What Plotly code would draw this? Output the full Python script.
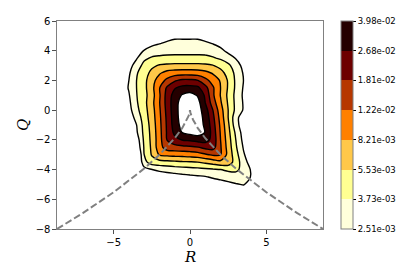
import numpy as np
import plotly.graph_objects as go

# Grid of the joint PDF (log10 of density), rows from Q=5.5 (top) to Q=-5.5 (bottom)
R_cols = [-4.5, -4.0, -3.5, -3.0, -2.5, -2.0, -1.5, -1.0, -0.5, 0.0,
          0.5, 1.0, 1.5, 2.0, 2.5, 3.0, 3.5, 4.0, 4.5]
Q_rows = [5.5, 5.0, 4.5, 4.0, 3.5, 3.0, 2.5, 2.0, 1.5, 1.0, 0.5, 0.0,
          -0.5, -1.0, -1.5, -2.0, -2.5, -3.0, -3.5, -4.0, -4.5, -5.0, -5.5]
log10_pdf = [
    [-2.943,-2.943,-2.943,-2.943,-2.943,-2.943,-2.926,-2.892,-2.857,-2.857,-2.857,-2.892,-2.926,-2.943,-2.943,-2.943,-2.943,-2.943,-2.943],
    [-2.943,-2.943,-2.909,-2.840,-2.772,-2.720,-2.686,-2.643,-2.643,-2.643,-2.643,-2.686,-2.720,-2.772,-2.823,-2.874,-2.909,-2.943,-2.943],
    [-2.909,-2.857,-2.772,-2.703,-2.643,-2.609,-2.569,-2.549,-2.549,-2.549,-2.549,-2.569,-2.609,-2.660,-2.720,-2.772,-2.823,-2.874,-2.909],
    [-2.943,-2.823,-2.694,-2.591,-2.531,-2.506,-2.494,-2.485,-2.485,-2.485,-2.485,-2.494,-2.514,-2.557,-2.643,-2.754,-2.883,-2.943,-2.943],
    [-2.874,-2.737,-2.617,-2.463,-2.408,-2.391,-2.382,-2.382,-2.382,-2.382,-2.382,-2.382,-2.411,-2.454,-2.523,-2.609,-2.717,-2.840,-2.943],
    [-2.806,-2.677,-2.514,-2.377,-2.291,-2.240,-2.223,-2.214,-2.214,-2.214,-2.214,-2.223,-2.248,-2.308,-2.391,-2.514,-2.651,-2.780,-2.909],
    [-2.754,-2.626,-2.447,-2.326,-2.214,-2.106,-2.025,-2.000,-1.988,-1.988,-2.000,-2.034,-2.104,-2.200,-2.319,-2.471,-2.614,-2.737,-2.874],
    [-2.729,-2.600,-2.429,-2.307,-2.154,-2.000,-1.871,-1.763,-1.708,-1.708,-1.734,-1.857,-1.983,-2.103,-2.276,-2.458,-2.600,-2.729,-2.857],
    [-2.717,-2.585,-2.429,-2.307,-2.142,-1.923,-1.717,-1.585,-1.520,-1.514,-1.533,-1.681,-1.890,-2.086,-2.276,-2.459,-2.614,-2.737,-2.857],
    [-2.742,-2.614,-2.435,-2.315,-2.161,-1.935,-1.676,-1.497,-1.382,-1.331,-1.417,-1.600,-1.885,-2.094,-2.295,-2.475,-2.626,-2.754,-2.874],
    [-2.768,-2.639,-2.449,-2.310,-2.142,-1.923,-1.676,-1.468,-1.322,-1.262,-1.331,-1.571,-1.828,-2.063,-2.278,-2.471,-2.614,-2.742,-2.871],
    [-2.794,-2.665,-2.478,-2.322,-2.161,-1.938,-1.689,-1.466,-1.314,-1.228,-1.314,-1.494,-1.743,-2.012,-2.257,-2.471,-2.614,-2.742,-2.871],
    [-2.832,-2.703,-2.543,-2.343,-2.175,-1.952,-1.705,-1.477,-1.314,-1.228,-1.305,-1.454,-1.701,-1.977,-2.257,-2.543,-2.703,-2.832,-2.943],
    [-2.857,-2.729,-2.601,-2.367,-2.192,-1.964,-1.715,-1.490,-1.339,-1.279,-1.331,-1.424,-1.670,-1.948,-2.224,-2.531,-2.703,-2.832,-2.943],
    [-2.883,-2.754,-2.626,-2.380,-2.206,-1.974,-1.722,-1.530,-1.391,-1.348,-1.314,-1.408,-1.645,-1.929,-2.200,-2.463,-2.677,-2.806,-2.934],
    [-2.909,-2.780,-2.703,-2.394,-2.214,-1.983,-1.736,-1.626,-1.564,-1.544,-1.513,-1.502,-1.628,-1.914,-2.176,-2.429,-2.651,-2.780,-2.909],
    [-2.934,-2.806,-2.754,-2.411,-2.224,-1.984,-1.825,-1.806,-1.792,-1.777,-1.751,-1.696,-1.674,-1.897,-2.156,-2.404,-2.614,-2.742,-2.871],
    [-2.943,-2.943,-2.857,-2.429,-2.242,-2.068,-2.044,-2.031,-2.022,-2.010,-1.989,-1.938,-1.890,-1.905,-2.140,-2.363,-2.578,-2.717,-2.845],
    [-2.943,-2.943,-2.857,-2.485,-2.339,-2.322,-2.308,-2.293,-2.279,-2.271,-2.257,-2.221,-2.182,-2.137,-2.154,-2.332,-2.525,-2.677,-2.806],
    [-2.943,-2.943,-2.720,-2.660,-2.603,-2.567,-2.542,-2.519,-2.504,-2.493,-2.478,-2.465,-2.447,-2.430,-2.396,-2.394,-2.482,-2.614,-2.806],
    [-2.943,-2.943,-2.943,-2.943,-2.729,-2.708,-2.687,-2.677,-2.657,-2.639,-2.626,-2.614,-2.579,-2.550,-2.528,-2.507,-2.514,-2.609,-2.772],
    [-2.943,-2.943,-2.943,-2.943,-2.943,-2.943,-2.892,-2.857,-2.823,-2.806,-2.772,-2.742,-2.708,-2.677,-2.643,-2.614,-2.590,-2.665,-2.806],
    [-2.943,-2.943,-2.943,-2.943,-2.943,-2.943,-2.943,-2.943,-2.943,-2.943,-2.943,-2.874,-2.840,-2.806,-2.772,-2.742,-2.717,-2.789,-2.857],
]

# Contour levels (PDF values shown on the colour bar)
level_values = [2.51e-3, 3.73e-3, 5.53e-3, 8.21e-3, 1.22e-2, 1.81e-2, 2.68e-2, 3.98e-2]
level_labels = ["2.51e-03", "3.73e-03", "5.53e-03", "8.21e-03",
                "1.22e-02", "1.81e-02", "2.68e-02", "3.98e-02"]
band_colors = ["rgb(255,255,219)", "rgb(255,255,146)", "rgb(255,200,73)",
               "rgb(255,128,0)", "rgb(182,55,0)", "rgb(109,0,0)", "rgb(36,0,0)"]

# Vieillefosse line
vf_R = [-8.71, -7.0, -5.0, -3.0, -2.0, -1.0, -0.5, -0.2, -0.1, -0.05, -0.02, 0.0,
        0.02, 0.05, 0.1, 0.2, 0.5, 1.0, 2.0, 3.0, 5.0, 7.0, 8.71]
vf_Q = [-8.0, -6.915, -5.526, -3.931, -2.999, -1.890, -1.191, -0.646, -0.407, -0.256, -0.139, 0.0,
        -0.139, -0.256, -0.407, -0.646, -1.191, -1.890, -2.999, -3.931, -5.526, -6.915, -8.0]

log_levels = np.log10(level_values)
lo, hi = log_levels[0], log_levels[-1]
step = (hi - lo) / (len(level_values) - 1)
nb = len(band_colors)

Z = np.array(log10_pdf)[::-1]
Qa = np.array(Q_rows)[::-1]

fill_scale = [[0.0, "white"]] + [[(i + 1) / (nb + 1), c] for i, c in enumerate(band_colors)] + [[1.0, "white"]]

cb_scale = []
for i, c in enumerate(band_colors):
    cb_scale += [[i / nb, c], [(i + 1) / nb, c]]

fig = go.Figure()
fig.add_trace(go.Contour(
    x=R_cols, y=Qa, z=Z,
    contours=dict(start=lo, end=hi, size=step, coloring="fill"),
    colorscale=fill_scale, showscale=False,
    line=dict(color="black", width=1.4, smoothing=0.9),
    hoverinfo="skip",
))
fig.add_trace(go.Scatter(
    x=vf_R, y=vf_Q, mode="lines",
    line=dict(color="rgb(128,128,128)", width=2, dash="7px,3px"),
    showlegend=False, hoverinfo="skip",
))
fig.add_trace(go.Scatter(
    x=[-100, -100], y=[-100, -100], mode="markers",
    marker=dict(size=1, color=[lo, hi], cmin=lo, cmax=hi, colorscale=cb_scale,
                showscale=True,
                colorbar=dict(
                    tickvals=list(log_levels), ticktext=level_labels,
                    ticks="outside", ticklen=3, tickcolor="black",
                    tickfont=dict(family="DejaVu Sans", size=8.5, color="black"),
                    thickness=12, len=1, lenmode="fraction", y=0.5, yanchor="middle",
                    x=1.068, xanchor="left", xpad=0, ypad=0,
                    outlinewidth=1, outlinecolor="rgb(128,128,128)",
                )),
    showlegend=False, hoverinfo="skip",
))

axis_common = dict(
    showgrid=False, zeroline=False, showline=True, mirror=True,
    linecolor="rgb(128,128,128)", linewidth=1.2,
    ticks="outside", ticklen=3.5, tickcolor="rgb(80,80,80)", tickwidth=1,
    tickfont=dict(family="DejaVu Sans", size=10, color="black"),
)
title_font = dict(family="DejaVu Serif", size=15, color="black")
fig.update_layout(
    width=407, height=269,
    margin=dict(l=49, r=92, t=7, b=48),
    paper_bgcolor="white", plot_bgcolor="white",
    showlegend=False,
    xaxis=dict(range=[-8.71, 8.71], tickvals=[-5, 0, 5], **axis_common),
    yaxis=dict(range=[-8, 6], tickvals=[-8, -6, -4, -2, 0, 2, 4, 6], **axis_common),
    annotations=[
        dict(text="<i>R</i>", xref="paper", yref="paper", x=0.5, y=0, yshift=-28,
             xanchor="center", yanchor="middle", showarrow=False, font=title_font),
        dict(text="<i>Q</i>", xref="paper", yref="paper", x=0, y=0.5, xshift=-34,
             xanchor="center", yanchor="middle", textangle=-90, showarrow=False, font=title_font),
    ],
)
fig.write_html("out.html")
